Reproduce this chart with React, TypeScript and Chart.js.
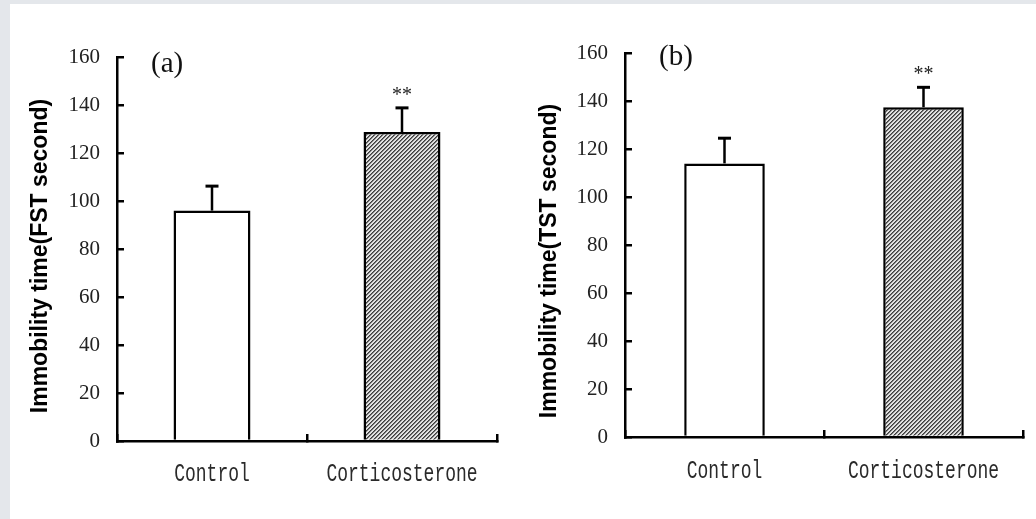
import React, { useEffect, useRef } from "react";
import { Chart, registerables } from "chart.js";

Chart.register(...registerables);

// ---- data ----
const categories = ["Control", "Corticosterone"];
const fstMeans = [96, 128.7];
const fstErrors = [10.2, 10.1];
const tstMeans = [114, 137.4];
const tstErrors = [10.5, 8.3];
const significance = ["", "**"];
const yTickMin = 0;
const yTickMax = 160;
const yTickStep = 20;
const panelLabels = ["(a)", "(b)"];
const yTitles = ["Immobility time(FST second)", "Immobility time(TST second)"];

type PanelLayout = {
  axisWidth: number;
  padTop: number;
  padRight: number;
  padBottom: number;
  xAxisHeight: number;
  xLabelY: number;
  titleX: number;
  titleY: number;
  labelX: number;
  labelY: number;
};

const layoutA: PanelLayout = {
  axisWidth: 117,
  padTop: 57,
  padRight: 19,
  padBottom: 18,
  xAxisHeight: 60,
  xLabelY: 474,
  titleX: 41,
  titleY: 256,
  labelX: 151,
  labelY: 71.5,
};
const layoutB: PanelLayout = {
  axisWidth: 109,
  padTop: 53,
  padRight: 13,
  padBottom: 22,
  xAxisHeight: 60,
  xLabelY: 471,
  titleX: 33.5,
  titleY: 261,
  labelX: 143,
  labelY: 65,
};

function makeHatch(ctx: CanvasRenderingContext2D): CanvasPattern | string {
  const off = document.createElement("canvas");
  off.width = 4;
  off.height = 4;
  const octx = off.getContext("2d");
  if (!octx) return "#888";
  const img = octx.createImageData(4, 4);
  for (let y = 0; y < 4; y++) {
    for (let x = 0; x < 4; x++) {
      const k = (x + y) % 4;
      const v = k === 0 ? 60 : k === 1 ? 120 : 225;
      const i = (y * 4 + x) * 4;
      img.data[i] = v;
      img.data[i + 1] = v;
      img.data[i + 2] = v;
      img.data[i + 3] = 255;
    }
  }
  octx.putImageData(img, 0, 0);
  return ctx.createPattern(off, "repeat") || "#888";
}

function buildChart(
  canvas: HTMLCanvasElement,
  means: number[],
  errors: number[],
  layout: PanelLayout,
  panelLabel: string,
  yTitle: string
) {
  const ctx = canvas.getContext("2d")!;
  const hatch = makeHatch(ctx);

  const overlay = {
    id: "overlay",
    afterDatasetsDraw(chart: any) {
      const c = chart.ctx as CanvasRenderingContext2D;
      const yScale = chart.scales.y;
      const xScale = chart.scales.x;
      const meta = chart.getDatasetMeta(0);
      c.save();
      c.strokeStyle = "#000";
      meta.data.forEach((bar: any, i: number) => {
        const x = bar.x;
        const yTop = yScale.getPixelForValue(means[i]);
        const yErr = yScale.getPixelForValue(means[i] + errors[i]);
        c.lineWidth = 2.5;
        c.beginPath();
        c.moveTo(x, yTop);
        c.lineTo(x, yErr);
        c.stroke();
        c.lineWidth = 3;
        c.beginPath();
        c.moveTo(x - 6.5, yErr);
        c.lineTo(x + 6.5, yErr);
        c.stroke();
        if (significance[i]) {
          c.fillStyle = "#222";
          c.font = "20px 'Liberation Serif'";
          c.textAlign = "center";
          c.textBaseline = "alphabetic";
          c.fillText(significance[i], x, yErr - 7);
        }
      });
      // category labels (tall, narrow monospace look)
      c.fillStyle = "#2a2a2a";
      c.font = "18px 'Liberation Mono'";
      c.textAlign = "center";
      c.textBaseline = "middle";
      categories.forEach((label, i) => {
        const x = xScale.getPixelForValue(i);
        c.save();
        c.translate(x, layout.xLabelY);
        c.scale(1, 1.45);
        c.fillText(label, 0, 0);
        c.restore();
      });
      // panel label
      c.fillStyle = "#111";
      c.font = "29px 'Liberation Serif'";
      c.textAlign = "left";
      c.textBaseline = "alphabetic";
      c.fillText(panelLabel, layout.labelX, layout.labelY);
      // y title
      c.translate(layout.titleX, layout.titleY);
      c.rotate(-Math.PI / 2);
      c.font = "bold 23px 'Liberation Sans'";
      c.textAlign = "center";
      c.textBaseline = "middle";
      c.fillStyle = "#000";
      c.fillText(yTitle, 0, 0);
      c.restore();
    },
  };

  return new Chart(canvas, {
    type: "bar",
    data: {
      labels: categories,
      datasets: [
        {
          data: means,
          backgroundColor: ["#ffffff", hatch as any],
          borderColor: "#000",
          borderWidth: 2.5,
          categoryPercentage: 1,
          barPercentage: 0.405,
        },
      ],
    },
    options: {
      animation: false,
      responsive: false,
      maintainAspectRatio: false,
      events: [],
      layout: {
        padding: {
          left: 0,
          top: layout.padTop,
          right: layout.padRight,
          bottom: layout.padBottom,
        },
      },
      plugins: {
        legend: { display: false },
        tooltip: { enabled: false },
        title: { display: false },
      },
      scales: {
        x: {
          type: "category",
          offset: true,
          afterFit: (s: any) => {
            s.height = layout.xAxisHeight;
          },
          grid: {
            display: true,
            offset: true,
            drawOnChartArea: false,
            drawTicks: true,
            tickLength: -7,
            color: "#000",
            lineWidth: 2.5,
          },
          border: { display: true, color: "#000", width: 2.5 },
          ticks: {
            display: false,
          },
        },
        y: {
          type: "linear",
          min: yTickMin,
          max: yTickMax,
          afterFit: (s: any) => {
            s.width = layout.axisWidth;
          },
          grid: {
            display: true,
            drawOnChartArea: false,
            drawTicks: true,
            tickLength: -7,
            color: "#000",
            lineWidth: 2.5,
          },
          border: { display: true, color: "#000", width: 2.5 },
          ticks: {
            stepSize: yTickStep,
            color: "#222",
            padding: 24,
            font: { family: "'Liberation Serif'", size: 21 },
          },
        },
      },
    },
    plugins: [overlay],
  });
}

export default function App() {
  const refA = useRef<HTMLCanvasElement>(null);
  const refB = useRef<HTMLCanvasElement>(null);

  useEffect(() => {
    const charts: Chart[] = [];
    if (refA.current)
      charts.push(buildChart(refA.current, fstMeans, fstErrors, layoutA, panelLabels[0], yTitles[0]));
    if (refB.current)
      charts.push(buildChart(refB.current, tstMeans, tstErrors, layoutB, panelLabels[1], yTitles[1]));
    return () => charts.forEach((c) => c.destroy());
  }, []);

  return (
    <div
      style={{
        position: "fixed",
        left: 0,
        top: 0,
        width: 1036,
        height: 519,
        background: "#e4e7eb",
        overflow: "hidden",
      }}
    >
      <div
        style={{
          position: "absolute",
          left: 10,
          top: 4,
          right: 0,
          bottom: 0,
          background: "#ffffff",
        }}
      />
      <canvas
        ref={refA}
        width={516}
        height={519}
        style={{ position: "absolute", left: 0, top: 0, width: 516, height: 519 }}
      />
      <canvas
        ref={refB}
        width={520}
        height={519}
        style={{ position: "absolute", left: 516, top: 0, width: 520, height: 519 }}
      />
    </div>
  );
}
